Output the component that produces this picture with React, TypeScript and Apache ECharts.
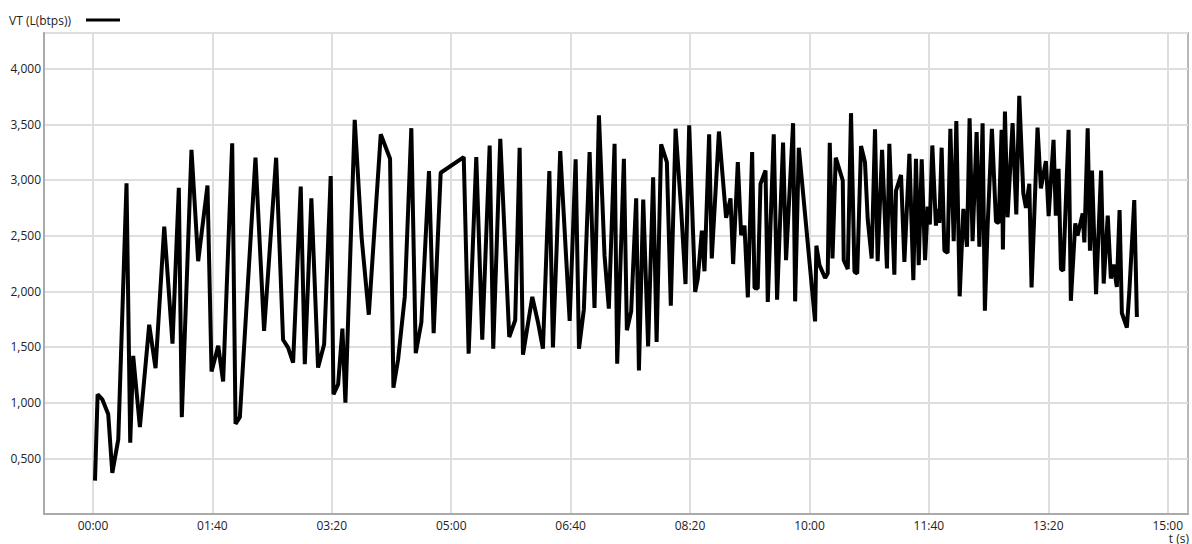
import React, { useEffect, useRef } from "react";
import * as echarts from "echarts";

const seriesName = "VT (L(btps))";
const xAxisName = "t (s)";
const xTicks = [0, 100, 200, 300, 400, 500, 600, 700, 800, 900];

// time in seconds
const times = [
  1.7, 3.9, 7.8, 12.8, 16.2, 21.2, 28.1, 31.2, 33.7, 39.3, 47.1, 52.4, 59.7, 66.6, 71.9, 74.4,
  82.5, 88.1, 95.9, 99.3, 104.9, 109.0, 116.6, 119.4, 123.0, 136.1, 143.3, 153.4, 159.2, 163.4,
  167.6, 174.0, 177.4, 182.9, 188.5, 193.6, 199.1, 201.4, 205.3, 208.9, 211.4, 219.2, 225.0,
  231.0, 241.0, 248.8, 251.6, 255.5, 261.1, 266.6, 270.3, 275.0, 281.4, 285.3, 291.2, 310.5,
  314.6, 321.0, 326.0, 332.2, 335.2, 341.1, 348.6, 353.6, 357.3, 360.1, 367.9, 372.7, 376.8,
  382.2, 385.2, 391.3, 399.2, 404.2, 407.0, 411.1, 415.9, 420.0, 423.7, 428.4, 432.0, 436.8,
  439.0, 444.6, 447.1, 450.7, 454.9, 457.2, 460.8, 464.9, 469.1, 472.0, 475.8, 480.6, 483.9,
  487.9, 492.6, 496.2, 499.3, 504.3, 506.5, 509.9, 512.1, 516.0, 518.2, 524.2, 530.2, 533.9,
  536.1, 540.0, 542.8, 545.6, 548.4, 552.0, 554.0, 556.7, 559.0, 563.2, 565.1, 570.1, 572.9,
  577.9, 580.4, 586.3, 588.0, 591.1, 604.7, 605.8, 608.4, 613.1, 615.3, 617.0, 619.3, 622.0,
  627.9, 628.7, 632.1, 634.8, 637.7, 640.0, 643.2, 646.5, 648.8, 652.1, 654.9, 657.1, 660.8,
  664.9, 666.9, 671.1, 672.5, 676.7, 679.5, 683.7, 687.0, 689.2, 691.5, 694.0, 696.8, 699.0,
  700.8, 702.9, 705.9, 707.3, 708.8, 710.7, 713.0, 715.7, 718.0, 720.8, 723.0, 725.8, 728.9,
  731.9, 734.1, 736.6, 740.0, 742.3, 745.0, 746.9, 749.2, 752.8, 756.2, 758.5, 760.9, 762.0,
  763.7, 765.9, 770.1, 773.2, 775.7, 779.1, 781.3, 784.1, 786.0, 791.0, 793.8, 798.0, 800.3,
  804.4, 806.3, 808.6, 810.6, 812.5, 817.0, 818.9, 822.6, 824.5, 828.8, 830.2, 833.0, 834.9,
  836.6, 840.0, 844.2, 846.4, 849.8, 852.4, 854.6, 857.4, 859.7, 861.6, 865.8, 867.8, 872.0,
  874.2,
];

// VT in L (btps)
const values = [
  300, 1075, 1030, 895, 370, 670, 2970, 640, 1420, 780, 1700, 1310, 2580, 1530, 2930, 870,
  3270, 2270, 2950, 1280, 1510, 1190, 3330, 810, 870, 3200, 1645, 3200, 1565, 1495,
  1360, 2940, 1345, 2835, 1315, 1525, 3035, 1075, 1165, 1665, 1000, 3540, 2480,
  1790, 3410, 3190, 1135, 1385, 1950, 3465, 1445, 1720, 3080, 1625, 3065, 3205,
  1440, 3205, 1565, 3310, 1485, 3370, 1590, 1740, 3290, 1430, 1950, 1720, 1485,
  3080, 1495, 3260, 1735, 3185, 1485, 1840, 3250, 1850, 3580, 2320, 1845, 3325,
  1350, 3190, 1650, 1820, 2835, 1290, 2825, 1505, 3025, 1545, 3320, 3160, 1870,
  3460, 2730, 2065, 3490, 1995, 2115, 2545, 2180, 3410, 2295, 3435, 2660, 2835,
  2245, 3160, 2505, 2590, 1945, 3250, 2030, 2025, 2965, 3085, 1905, 3410, 1925,
  3335, 2280, 3510, 1910, 3290, 1730, 2410, 2235, 2120, 2160, 3335, 2295, 3200,
  2995, 2280, 2200, 3600, 2175, 2160, 3305, 3160, 2645, 2295, 3455, 2270, 3270,
  2205, 3325, 2150, 2905, 3045, 2265, 3235, 2100, 3190, 2235, 3185, 2280, 2760,
  2600, 3310, 2590, 2740, 2615, 3290, 2365, 2345, 3460, 2450, 3530, 1955, 2740,
  2400, 3555, 2450, 3430, 2400, 3510, 1825, 2585, 3460, 2625, 2615, 3450, 2375,
  3615, 2665, 3510, 2690, 3755, 2880, 2750, 2965, 2035, 3470, 2925, 3170, 2675,
  3360, 2680, 3100, 2200, 2185, 3450, 1915, 2610, 2500, 2700, 2440, 3465, 2365,
  3085, 1975, 3085, 2070, 2680, 2115, 2240, 2040, 2730, 1805, 1675, 1985, 2820,
  1770,
];

const FONT = "'Open Sans', 'Noto Sans', sans-serif";

function fmtTime(t: number): string {
  const m = Math.floor(t / 60);
  const s = Math.round(t - m * 60);
  return String(m).padStart(2, "0") + ":" + String(s).padStart(2, "0");
}

function fmtVal(v: number): string {
  if (v <= 0 || v % 500 !== 0) return "";
  const th = Math.floor(v / 1000);
  const rest = v % 1000;
  return th + "," + String(rest).padStart(3, "0");
}

export default function App() {
  const ref = useRef<HTMLDivElement>(null);
  useEffect(() => {
    if (!ref.current) return;
    const chart = echarts.init(ref.current, null, { renderer: "svg" });
    const data = times.map((t, i) => [t, values[i]]);
    chart.setOption({
      animation: false,
      backgroundColor: "#ffffff",
      textStyle: { fontFamily: FONT },
      legend: {
        show: true,
        left: 4,
        top: 9,
        align: "right",
        icon: "rect",
        itemWidth: 34,
        itemHeight: 3,
        selectedMode: false,
        textStyle: { fontFamily: FONT, fontSize: 12, color: "#222", padding: [0, 10, 0, 0] },
        data: [{ name: seriesName, itemStyle: { color: "#000" } }],
      },
      grid: {
        left: 44,
        right: 4,
        top: 33,
        bottom: 30,
        containLabel: false,
        show: true,
        borderColor: "#b8b8b8",
        borderWidth: 2,
      },
      xAxis: {
        type: "value",
        min: -41,
        max: 917,
        axisLine: { show: true, onZero: false, lineStyle: { color: "#aaaaaa", width: 2 } },
        axisTick: { show: false, customValues: xTicks },
        axisLabel: {
          customValues: xTicks,
          formatter: (v: number) => fmtTime(v),
          fontFamily: FONT,
          fontSize: 12,
          lineHeight: 12,
          color: "#222",
          margin: 5,
        },
        splitLine: { show: true, lineStyle: { color: "#dedede", width: 2 } },
      },
      yAxis: {
        type: "value",
        min: 0,
        max: 4320,
        interval: 500,
        axisLine: { show: true, onZero: false, lineStyle: { color: "#aaaaaa", width: 2 } },
        axisTick: { show: false },
        axisLabel: {
          formatter: (v: number) => fmtVal(v),
          fontFamily: FONT,
          fontSize: 12,
          color: "#222",
          margin: 3,
          showMaxLabel: false,
        },
        splitLine: { show: true, lineStyle: { color: "#dedede", width: 2 } },
      },
      graphic: [
        {
          type: "text",
          right: 3,
          top: 532,
          style: {
            text: xAxisName,
            fontFamily: FONT,
            fontSize: 12,
            lineHeight: 12,
            fill: "#222",
          },
        },
      ],
      series: [
        {
          name: seriesName,
          type: "line",
          data,
          showSymbol: false,
          symbol: "none",
          lineStyle: { color: "#000", width: 4 },
          itemStyle: { color: "#000" },
        },
      ],
    });
    return () => chart.dispose();
  }, []);
  return (
    <div
      ref={ref}
      style={{ position: "fixed", left: 0, top: 0, width: 1192, height: 544 }}
    />
  );
}
